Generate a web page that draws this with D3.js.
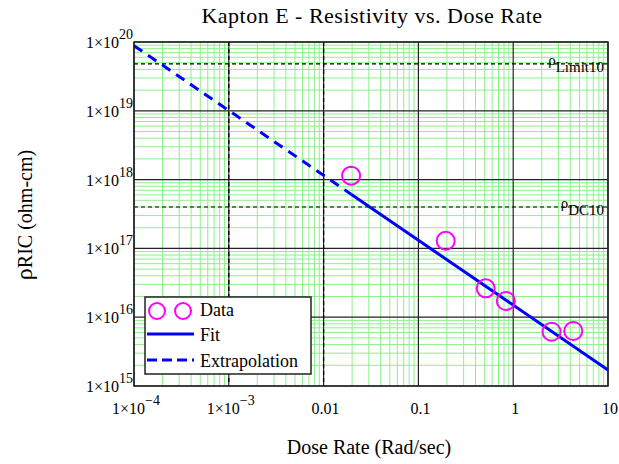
<!DOCTYPE html>
<html>
<head>
<meta charset="utf-8">
<script src="https://cdn.jsdelivr.net/npm/d3@7"></script>
<style>
  html, body { margin: 0; padding: 0; background: #fff; }
  svg { display: block; }
  text { font-family: "Liberation Serif", "Times New Roman", serif; fill: #000; }
</style>
</head>
<body>
<svg id="chart" width="619" height="464"></svg>
<script>
// ---- data ----
const doseData = [0.0195, 0.194, 0.513, 0.836, 2.54, 4.3];
const rhoData  = [1.14e18, 1.29e17, 2.63e16, 1.72e16, 6.15e15, 6.3e15];
const fitDose  = [0.0195, 10];
const fitRho   = [6.14e17, 1.71e15];
const extDose  = [1e-4, 0.0195];
const extRho   = [8.85e19, 6.14e17];
const markerRho = [4.8e19, 4.0e17];
const markerLabels = [["ρ", "Limit10"], ["ρ", "DC10"]];
const markerDose = [1e-3, 0.01];
const xTickValues = [1e-4, 1e-3, 0.01, 0.1, 1, 10];
const xTickLabels = [["1×10", "−4"], ["1×10", "−3"], ["0.01", ""], ["0.1", ""], ["1", ""], ["10", ""]];
const yTickValues = [1e15, 1e16, 1e17, 1e18, 1e19, 1e20];
const yTickLabels = [["1×10", "15"], ["1×10", "16"], ["1×10", "17"], ["1×10", "18"], ["1×10", "19"], ["1×10", "20"]];
const legendLabels = ["Data", "Fit", "Extrapolation"];

// ---- layout ----
const L = 134, R = 608, T = 42, B = 386;
const svg = d3.select("#chart");
const x = d3.scaleLog().domain([1e-4, 10]).range([L, R]);
const y = d3.scaleLog().domain([1e15, 1e20]).range([B, T]);

const plot = svg.append("g");
plot.append("rect").attr("x", L).attr("y", T).attr("width", R - L).attr("height", B - T).attr("fill", "#fff");

// minor grid
const minorX = [], minorY = [];
for (let e = -4; e < 1; e++) for (let k = 2; k <= 9; k++) minorX.push(k * Math.pow(10, e));
for (let e = 15; e < 20; e++) for (let k = 2; k <= 9; k++) minorY.push(k * Math.pow(10, e));
const gridColor = "#8cf08c";
plot.selectAll(".mx").data(minorX).enter().append("line")
  .attr("x1", d => x(d)).attr("x2", d => x(d)).attr("y1", T).attr("y2", B)
  .attr("stroke", gridColor).attr("stroke-width", 1);
plot.selectAll(".my").data(minorY).enter().append("line")
  .attr("y1", d => y(d)).attr("y2", d => y(d)).attr("x1", L).attr("x2", R)
  .attr("stroke", gridColor).attr("stroke-width", 1);
// major grid
plot.selectAll(".Mx").data(xTickValues).enter().append("line")
  .attr("x1", d => x(d)).attr("x2", d => x(d)).attr("y1", T).attr("y2", B)
  .attr("stroke", "#222").attr("stroke-width", 1.2);
plot.selectAll(".My").data(yTickValues).enter().append("line")
  .attr("y1", d => y(d)).attr("y2", d => y(d)).attr("x1", L).attr("x2", R)
  .attr("stroke", "#222").attr("stroke-width", 1.2);

// markers
plot.selectAll(".mkv").data(markerDose).enter().append("line")
  .attr("x1", d => x(d)).attr("x2", d => x(d)).attr("y1", T).attr("y2", B)
  .attr("stroke", "#000").attr("stroke-width", 1.3).attr("stroke-dasharray", "4,3");
plot.selectAll(".mkh").data(markerRho).enter().append("line")
  .attr("y1", d => y(d)).attr("y2", d => y(d)).attr("x1", L).attr("x2", R)
  .attr("stroke", "#000").attr("stroke-width", 1.2).attr("stroke-dasharray", "4,3");
markerRho.forEach((v, i) => {
  const t = plot.append("text").attr("x", R - 4).attr("y", y(v) + 8)
    .attr("text-anchor", "end").attr("font-size", 15);
  t.append("tspan").attr("dy", -7).text(markerLabels[i][0]);
  t.append("tspan").attr("dy", 7).text(markerLabels[i][1]);
});

// lines
const line = d3.line().x(d => x(d[0])).y(d => y(d[1]));
plot.append("path").datum(extDose.map((d, i) => [d, extRho[i]])).attr("d", line)
  .attr("fill", "none").attr("stroke", "#0000ff").attr("stroke-width", 3).attr("stroke-dasharray", "10,7");
plot.append("path").datum(fitDose.map((d, i) => [d, fitRho[i]])).attr("d", line)
  .attr("fill", "none").attr("stroke", "#0000ff").attr("stroke-width", 3);

// data points
plot.selectAll(".pt").data(doseData.map((d, i) => [d, rhoData[i]])).enter().append("circle")
  .attr("cx", d => x(d[0])).attr("cy", d => y(d[1])).attr("r", 9)
  .attr("fill", "none").attr("stroke", "#ff00ff").attr("stroke-width", 2);

// border
plot.append("rect").attr("x", L).attr("y", T).attr("width", R - L).attr("height", B - T)
  .attr("fill", "none").attr("stroke", "#222").attr("stroke-width", 1.5);

// y tick labels
yTickValues.forEach((v, i) => {
  const t = svg.append("text").attr("x", L - 1).attr("y", y(v) + 6)
    .attr("text-anchor", "end").attr("font-size", 16);
  t.append("tspan").text(yTickLabels[i][0]);
  t.append("tspan").attr("dy", -9).attr("font-size", 14).text(yTickLabels[i][1]);
});
// x tick labels
xTickValues.forEach((v, i) => {
  const t = svg.append("text").attr("x", x(v) + 2).attr("y", 414)
    .attr("text-anchor", "middle").attr("font-size", 16);
  t.append("tspan").text(xTickLabels[i][0]);
  if (xTickLabels[i][1]) t.append("tspan").attr("dy", -9).attr("font-size", 14).text(xTickLabels[i][1]);
});

// titles
svg.append("text").attr("x", 372).attr("y", 23).attr("text-anchor", "middle")
  .attr("font-size", 22).attr("letter-spacing", 0.5).text("Kapton E - Resistivity vs. Dose Rate");
svg.append("text").attr("x", 369).attr("y", 454).attr("text-anchor", "middle")
  .attr("font-size", 20).text("Dose Rate (Rad/sec)");
const yl = svg.append("text").attr("transform", "translate(32,215) rotate(-90)")
  .attr("text-anchor", "middle").attr("font-size", 20);
yl.append("tspan").attr("font-size", 24).text("ρ");
yl.append("tspan").text("RIC (ohm-cm)");

// legend
const lg = svg.append("g");
lg.append("rect").attr("x", 145).attr("y", 297).attr("width", 166).attr("height", 77)
  .attr("fill", "#fff").attr("stroke", "#222").attr("stroke-width", 1.5);
[157, 183].forEach(cx => lg.append("circle").attr("cx", cx).attr("cy", 311).attr("r", 8)
  .attr("fill", "none").attr("stroke", "#ff00ff").attr("stroke-width", 2));
lg.append("line").attr("x1", 147).attr("x2", 194).attr("y1", 334).attr("y2", 334)
  .attr("stroke", "#0000ff").attr("stroke-width", 3);
lg.append("line").attr("x1", 147).attr("x2", 194).attr("y1", 360).attr("y2", 360)
  .attr("stroke", "#0000ff").attr("stroke-width", 3).attr("stroke-dasharray", "10,5");
[316, 341, 367].forEach((yy, i) => lg.append("text").attr("x", 200).attr("y", yy)
  .attr("font-size", 18).text(legendLabels[i]));
</script>
</body>
</html>
